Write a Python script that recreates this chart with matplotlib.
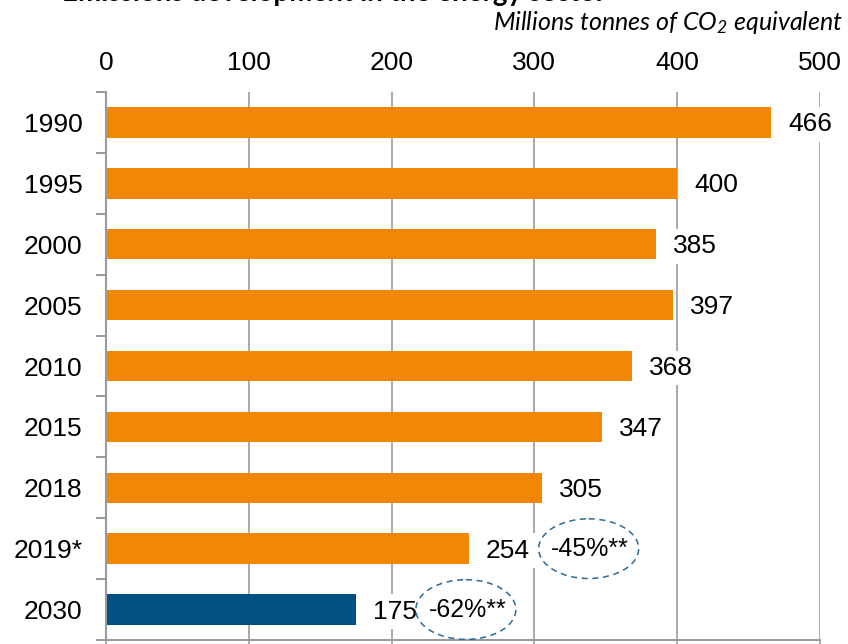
import matplotlib.pyplot as plt
from matplotlib.patches import Ellipse
from matplotlib.ticker import FixedLocator

# data
years = ['1990', '1995', '2000', '2005', '2010', '2015', '2018', '2019*', '2030']
emissions = [466, 400, 385, 397, 368, 347, 305, 254, 175]
reductions = {'2019*': '-45%**', '2030': '-62%**'}

orange = '#F28705'
blue = '#02507F'
grey = '#9B9B9B'

plt.rcParams['font.family'] = ['Liberation Sans', 'DejaVu Sans']
plt.rcParams['mathtext.fontset'] = 'custom'
plt.rcParams['mathtext.it'] = 'Lato:italic'
plt.rcParams['mathtext.rm'] = 'Lato:italic'

fs = 19

fig = plt.figure(figsize=(8.48, 6.44), dpi=100)
ax = fig.add_axes([106/848, 1-640/644, 714/848, 548/644])

pos = list(range(len(years)))
colors = [blue if y == '2030' else orange for y in years]
ax.barh(pos, emissions, height=0.5, color=colors, zorder=2)

ax.set_xlim(0, 500)
ax.set_ylim(len(years)-0.5, -0.5)
ax.set_yticks(pos)
ax.set_yticklabels(years)
ax.yaxis.set_minor_locator(FixedLocator([p - 0.5 for p in pos] + [len(years)-0.5]))
ax.set_xticks(range(0, 501, 100))

ax.tick_params(axis='x', which='major', top=True, labeltop=True, labelbottom=False,
               length=8, pad=4, labelsize=fs, color=grey, width=1.2, direction='out')
ax.xaxis.set_tick_params(which='major', top=False)
ax.tick_params(axis='y', which='major', length=0, pad=17, labelsize=fs)
ax.tick_params(axis='y', which='minor', length=7, color=grey, width=1.5)

for s in ['top', 'right']:
    ax.spines[s].set_visible(False)
for s in ['left', 'bottom']:
    ax.spines[s].set_color(grey)
    ax.spines[s].set_linewidth(1.5)

for x in range(100, 501, 100):
    ax.axvline(x, color=grey, lw=1.2, zorder=1)

for p, v in zip(pos, emissions):
    ax.annotate(str(v), (v, p), xytext=(17, -2), textcoords='offset pixels',
                va='center', ha='left', fontsize=fs, zorder=4,
                bbox=dict(boxstyle='square,pad=0.2', fc='white', ec='none'))

# dashed ellipses with reduction vs 1990
for yr, txt in reductions.items():
    p = years.index(yr)
    v = emissions[p]
    cx = v + 84 if yr == '2019*' else v + 77
    ax.add_patch(Ellipse((cx, p), 70, 0.98, fill=False, ec='#2A6A99', lw=1.1,
                         ls=(0, (4, 3)), zorder=5))
    ax.text(cx + 1, p, txt, ha='center', va='center', fontsize=fs - 1, zorder=6)

fig.text(843/848, 1-22/644, 'Millions tonnes of CO$_2$ equivalent', ha='right', va='center',
         fontsize=18, family='Lato', style='italic')
fig.text(62/848, 1-1/644, 'Emissions development in the energy sector', ha='left',
         va='baseline', fontsize=20, family='Lato', weight='bold')

fig.savefig('out.png', dpi=100)
